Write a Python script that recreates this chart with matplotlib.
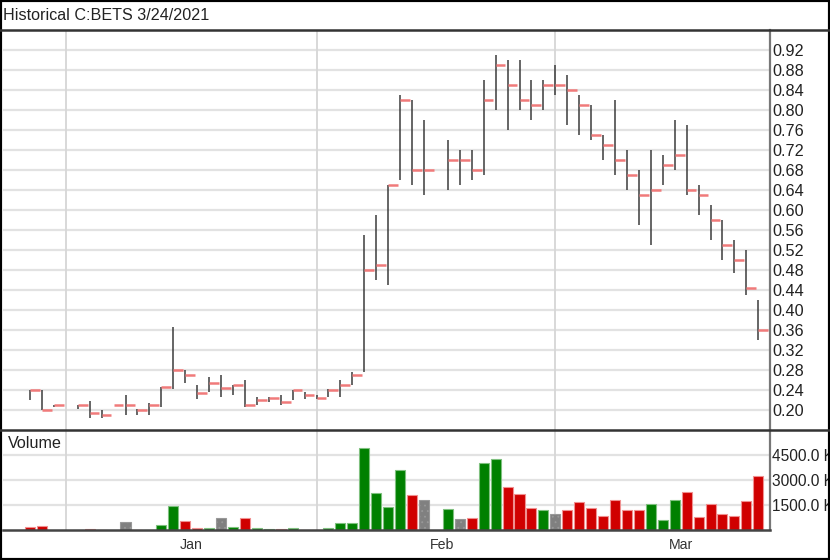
import numpy as np
import matplotlib
matplotlib.use("Agg")
import matplotlib.pyplot as plt
from matplotlib.lines import Line2D
from matplotlib.patches import Rectangle

plt.rcParams['font.family'] = ['Liberation Sans', 'DejaVu Sans']
plt.rcParams['hatch.linewidth'] = 0.6

# daily data (volume in thousands)
dates = ['2020-12-29', '2020-12-30', '2020-12-31',
         '2021-01-04', '2021-01-05', '2021-01-06', '2021-01-07', '2021-01-08',
         '2021-01-11', '2021-01-12', '2021-01-13', '2021-01-14', '2021-01-15',
         '2021-01-18', '2021-01-19', '2021-01-20', '2021-01-21', '2021-01-22',
         '2021-01-25', '2021-01-26', '2021-01-27', '2021-01-28', '2021-01-29',
         '2021-02-01', '2021-02-02', '2021-02-03', '2021-02-04', '2021-02-05',
         '2021-02-08', '2021-02-09', '2021-02-10', '2021-02-11', '2021-02-12',
         '2021-02-16', '2021-02-17', '2021-02-18', '2021-02-19',
         '2021-02-22', '2021-02-23', '2021-02-24', '2021-02-25', '2021-02-26',
         '2021-03-01', '2021-03-02', '2021-03-03', '2021-03-04', '2021-03-05',
         '2021-03-08', '2021-03-09', '2021-03-10', '2021-03-11', '2021-03-12',
         '2021-03-15', '2021-03-16', '2021-03-17', '2021-03-18', '2021-03-19',
         '2021-03-22', '2021-03-23', '2021-03-24']

high = [0.240, 0.240, 0.210,
        0.210, 0.219, 0.200, 0.210, 0.230,
        0.202, 0.214, 0.246, 0.366, 0.280,
        0.250, 0.266, 0.270, 0.250, 0.260,
        0.226, 0.226, 0.230, 0.240, 0.236,
        0.230, 0.242, 0.260, 0.276, 0.550,
        0.590, 0.650, 0.830, 0.820, 0.780,
        0.740, 0.720, 0.720, 0.860,
        0.910, 0.900, 0.900, 0.860, 0.860,
        0.890, 0.870, 0.830, 0.810, 0.750,
        0.820, 0.720, 0.680, 0.720, 0.710,
        0.780, 0.770, 0.650, 0.610, 0.580,
        0.540, 0.520, 0.420]

low = [0.221, 0.200, 0.206,
       0.202, 0.185, 0.185, 0.210, 0.190,
       0.190, 0.190, 0.206, 0.242, 0.254,
       0.222, 0.236, 0.226, 0.230, 0.206,
       0.210, 0.216, 0.210, 0.220, 0.222,
       0.222, 0.226, 0.226, 0.250, 0.276,
       0.460, 0.450, 0.660, 0.650, 0.630,
       0.640, 0.650, 0.660, 0.670,
       0.800, 0.760, 0.800, 0.780, 0.800,
       0.830, 0.770, 0.750, 0.740, 0.700,
       0.670, 0.640, 0.570, 0.530, 0.650,
       0.680, 0.630, 0.590, 0.540, 0.500,
       0.474, 0.430, 0.340]

close = [0.240, 0.200, 0.210,
         0.210, 0.195, 0.190, 0.210, 0.210,
         0.200, 0.210, 0.246, 0.280, 0.270,
         0.235, 0.255, 0.245, 0.250, 0.210,
         0.220, 0.225, 0.216, 0.240, 0.230,
         0.225, 0.240, 0.250, 0.270, 0.480,
         0.490, 0.650, 0.820, 0.680, 0.680,
         0.700, 0.700, 0.680, 0.820,
         0.890, 0.850, 0.820, 0.810, 0.850,
         0.850, 0.840, 0.810, 0.750, 0.730,
         0.700, 0.670, 0.630, 0.640, 0.690,
         0.710, 0.640, 0.630, 0.580, 0.530,
         0.500, 0.445, 0.360]

volume = [180, 240, 0,
          30, 80, 20, 0, 480,
          20, 30, 300, 1460, 560,
          100, 100, 740, 180, 700,
          120, 80, 80, 120, 20,
          20, 100, 400, 440, 4920,
          2200, 1360, 3600, 2120, 1800,
          1240, 640, 740, 4040,
          4240, 2560, 2160, 1340, 1180,
          960, 1200, 1660, 1340, 820,
          1780, 1200, 1180, 1560, 600,
          1800, 2260, 800, 1560, 960,
          820, 1740, 3220]

# 1 up day, -1 down day, 0 unchanged
direction = [-1, -1, 0,
             0, -1, -1, 1, 0,
             -1, 1, 1, 1, -1,
             -1, 1, 0, 1, -1,
             1, 1, -1, 1, -1,
             -1, 1, 1, 1, 1,
             1, 1, 1, -1, 0,
             1, 0, -1, 1,
             1, -1, -1, -1, 1,
             0, -1, -1, -1, -1,
             -1, -1, -1, 1, 1,
             1, -1, -1, -1, -1,
             -1, -1, -1]

month_starts = ['2021-01-01', '2021-02-01', '2021-03-01']
month_names = ['Jan', 'Feb', 'Mar']
month_label_pos = [13.5, 34.5, 54.5]

price_ticks = np.round(np.arange(0.20, 0.93, 0.04), 2)
vol_ticks = [1500, 3000, 4500]

# trading-day index, holidays stay as gaps
start = dates[0]
x = np.busday_count(start, dates)
grid_x = np.busday_count(start, month_starts)

W, H = 830, 560
fig = plt.figure(figsize=(W / 100, H / 100), dpi=100)
fig.patch.set_facecolor('white')


def fx(px):
    return px / W


def fy(py):
    return 1 - py / H


left_px, right_px = 3, 770
ax = fig.add_axes([fx(left_px), fy(430), fx(right_px - left_px), (430 - 30) / H])
axv = fig.add_axes([fx(left_px), fy(530), fx(right_px - left_px), 100 / H])

xlim = (-2.26, 61.98)
grid_col = '#e2e2e2'
vgrid_col = '#d6d6d6'
label_size = 11.7

# price panel
ax.set_xlim(*xlim)
ax.set_ylim(0.16, 0.96)
for v in price_ticks:
    ax.axhline(v, color=grid_col, lw=1.6, zorder=0)
for g in grid_x:
    ax.axvline(g, color=vgrid_col, lw=1.3, zorder=0)

ax.vlines(x, low, high, color='#3c3c3c', lw=1.1, zorder=2)
ax.hlines(close, x, x + 0.82, color='#f07a7a', lw=1.8, zorder=3)

ax.yaxis.tick_right()
ax.set_yticks(price_ticks)
ax.set_yticklabels([f'{v:.2f}' for v in price_ticks])
ax.tick_params(axis='y', length=0, pad=2, labelsize=label_size, labelcolor='#222222')
ax.set_xticks([])
for s in ['top', 'left', 'bottom']:
    ax.spines[s].set_visible(False)
ax.spines['right'].set_color('#777777')
ax.spines['right'].set_linewidth(1.6)

# volume panel
axv.set_xlim(*xlim)
axv.set_ylim(0, 6000)
for v in vol_ticks:
    axv.axhline(v, color=grid_col, lw=1.6, zorder=0)
for g in grid_x:
    axv.axvline(g, color=vgrid_col, lw=1.3, zorder=0)

fill = {1: '#008000', -1: '#d00000', 0: '#808080'}
edge = {1: '#7fc07f', -1: '#f09090', 0: '#989898'}
for xi, vol, d in zip(x, volume, direction):
    if vol <= 0:
        continue
    axv.bar(xi, vol, width=0.84, color=fill[d], edgecolor=edge[d], lw=0.8,
            hatch='...' if d == 0 else None, zorder=2)

# volume labels run past the right edge, the trailing K is cut as in the original
axv.yaxis.tick_right()
axv.set_yticks(vol_ticks)
axv.set_yticklabels([f'{v:.1f} K' for v in vol_ticks])
axv.tick_params(axis='y', length=0, pad=1.5, labelsize=11.2, labelcolor='#222222')
axv.set_xticks(month_label_pos)
axv.set_xticklabels(month_names)
axv.tick_params(axis='x', length=0, pad=6, labelsize=10.2, labelcolor='#333333')
for s in ['top', 'left']:
    axv.spines[s].set_visible(False)
axv.spines['right'].set_color('#777777')
axv.spines['right'].set_linewidth(1.6)
axv.spines['bottom'].set_color('#444444')
axv.spines['bottom'].set_linewidth(1.8)

# frame, title bar and panel separator
fig.add_artist(Line2D([0, 1], [fy(30), fy(30)], color='#333333', lw=1.8))
fig.add_artist(Line2D([0, 1], [fy(430), fy(430)], color='#333333', lw=1.8))
fig.add_artist(Rectangle((0, 0), 1, 1, fill=False, edgecolor='black', lw=3,
                         transform=fig.transFigure))

fig.text(fx(3), fy(15), 'Historical C:BETS 3/24/2021', fontsize=11.6,
         va='center', ha='left', color='#222222')
fig.text(fx(8), fy(444), 'Volume', fontsize=11.6, va='center', ha='left',
         color='#222222')

fig.savefig('out.png', dpi=100)
